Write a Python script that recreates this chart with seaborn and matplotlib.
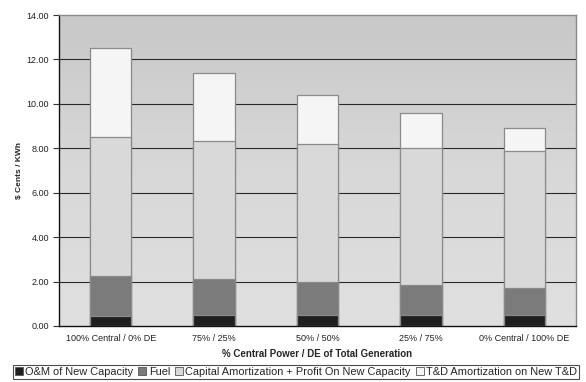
import numpy as np
import pandas as pd
import matplotlib
matplotlib.use("Agg")
import matplotlib.pyplot as plt
from matplotlib.patches import Patch
import seaborn as sns

# Cost components per generation mix, $ cents / kWh
categories = ["100% Central / 0% DE", "75% / 25%", "50% / 50%", "25% / 75%", "0% Central / 100% DE"]
om_cost = [0.47, 0.51, 0.50, 0.50, 0.50]
fuel_cost = [1.76, 1.61, 1.50, 1.34, 1.23]
capital_cost = [6.27, 6.23, 6.20, 6.16, 6.17]
td_cost = [4.00, 3.05, 2.20, 1.60, 1.00]

series_names = ["O&M of New Capacity", "Fuel",
                "Capital Amortization + Profit On New Capacity",
                "T&D Amortization on New T&D"]
series_colors = ["#1f1f1f", "#7b7b7b", "#d9d9d9", "#f5f5f5"]
y_ticks = [0, 2, 4, 6, 8, 10, 12, 14]

sns.set_theme(style="white")
plt.rcParams["font.family"] = ["Liberation Sans", "DejaVu Sans"]

df = pd.DataFrame({"mix": categories, "om": om_cost, "fuel": fuel_cost,
                   "capital": capital_cost, "td": td_cost})
cols = ["om", "fuel", "capital", "td"]
cum = df[cols].cumsum(axis=1)

fig = plt.figure(figsize=(5.86, 3.82), dpi=100)
ax = fig.add_axes([0.1007, 0.1466, 0.8823, 0.8141])

# gradient plot-area background
grad = np.linspace(0, 1, 256).reshape(-1, 1)
ax.imshow(grad, extent=(-0.5, 4.5, 0, 14), aspect="auto", origin="lower",
          cmap=matplotlib.colors.LinearSegmentedColormap.from_list(
              "bg", ["#e0e0e0", "#d8d8d8", "#c8c8c8"]), zorder=0)

for y in y_ticks[1:-1]:
    ax.axhline(y, color="#2a2a2a", lw=0.8, zorder=1)

# stacked bars: draw cumulative totals from top segment down
for col, color in zip(reversed(cols), reversed(series_colors)):
    sns.barplot(x=df["mix"], y=cum[col], color=color, width=0.4,
                edgecolor="#8a8a8a", linewidth=0.9, saturation=1,
                ax=ax, zorder=2)

ax.set_xlim(-0.5, 4.5)
ax.set_ylim(0, 14)
ax.set_yticks(y_ticks)
ax.set_yticklabels([f"{v:.2f}" for v in y_ticks], fontsize=6.5, color="#222222")
ax.set_xticks(range(len(categories)))
ax.set_xticklabels(categories, fontsize=6.5, color="#222222")
ax.set_xticks(np.arange(-0.5, 5, 1), minor=True)
ax.tick_params(axis="x", which="major", length=0, pad=6)
ax.tick_params(axis="x", which="minor", length=4, width=0.8, color="#333333", direction="out")
ax.tick_params(axis="y", length=4, width=0.8, color="#333333", direction="out", left=True, pad=3)

ax.set_xlabel("% Central Power / DE of Total Generation", fontsize=7, fontweight="bold", labelpad=4)
ax.set_ylabel("$ Cents / KWh", fontsize=6, fontweight="bold", labelpad=3)

for side in ["left", "bottom"]:
    ax.spines[side].set_color("#111111")
    ax.spines[side].set_linewidth(1.0)
for side in ["top", "right"]:
    ax.spines[side].set_color("#8a8a8a")
    ax.spines[side].set_linewidth(1.0)

handles = [Patch(facecolor=c, edgecolor="#555555", linewidth=0.6) for c in series_colors]
leg = fig.legend(handles, series_names, loc="lower center", ncol=4,
                 bbox_to_anchor=(0.505, 0.0), fontsize=7.9, frameon=True,
                 fancybox=False, handlelength=0.75, handleheight=0.75,
                 handletextpad=0.2, columnspacing=0.45, borderpad=0.2,
                 borderaxespad=0.25)
leg.get_frame().set_edgecolor("#222222")
leg.get_frame().set_linewidth(0.8)

fig.savefig("out.png", dpi=100, facecolor="white")
